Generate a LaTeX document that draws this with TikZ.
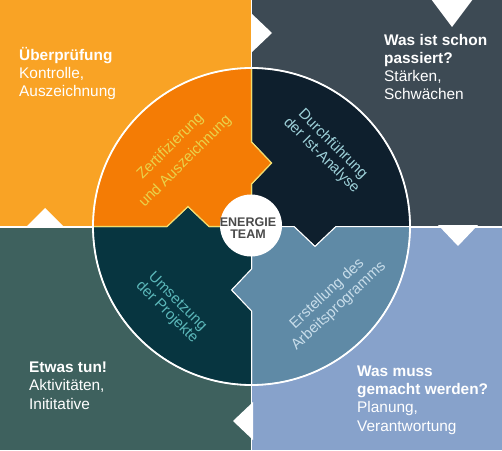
\documentclass[tikz,border=0pt]{standalone}
\usepackage{fontspec}
\setmainfont{Liberation Sans}
\definecolor{bgTL}{HTML}{F9A325}
\definecolor{bgTR}{HTML}{3D4A54}
\definecolor{bgBL}{HTML}{3E615E}
\definecolor{bgBR}{HTML}{87A2CB}
\definecolor{secOr}{HTML}{F47C05}
\definecolor{secNv}{HTML}{0E1F2D}
\definecolor{secTl}{HTML}{073540}
\definecolor{secBl}{HTML}{5F8AA6}
\definecolor{txOr}{HTML}{E9D24A}
\definecolor{txNv}{HTML}{9DD0D8}
\definecolor{txTl}{HTML}{5BB7B9}
\definecolor{txBl}{HTML}{C8DDEA}
\definecolor{txCt}{HTML}{4A4A4A}
\definecolor{bdOr}{HTML}{F2DC6A}
\tikzset{
  quarterpiece/.pic={
    \path[pic actions] (0,0) -- (0,42.5) -- (20,63.5) -- (0,84.5) -- (0,158.5)
      arc[start angle=90,end angle=180,radius=158.5]
      -- (-84.5,0) -- (-63.5,20) -- (-42.5,0) -- cycle;
  },
  notch/.style={fill=white},
  outer/.style={anchor=base west, align=left, text=white, inner sep=0pt,
    font=\fontsize{15.4}{18.2}\selectfont},
  sectxt/.style={align=center, inner sep=0pt}
}
\begin{document}
\begin{tikzpicture}[x=1pt,y=1pt]
\useasboundingbox (0,0) rectangle (502,450);
\fill[white] (0,0) rectangle (502,450);
% background quadrants
\fill[bgTL] (0,224) rectangle (250.8,450);
\fill[bgTR] (252.4,224) rectangle (502,450);
\fill[bgBL] (0,0) rectangle (250.8,222.4);
\fill[bgBR] (252.4,0) rectangle (502,222.4);
% white notches
\fill[notch] (26,223) -- (45,242) -- (64,223) -- cycle;
\fill[notch] (251,437) -- (272,417) -- (251,397) -- cycle;
\fill[notch] (431,451) -- (452,423) -- (473,451) -- cycle;
\fill[notch] (438,225) -- (458,204) -- (478,225) -- cycle;
\fill[notch] (253,48) -- (233,29) -- (253,10) -- cycle;
% sectors
\coordinate (C) at (251.5,223.5);
\pic[fill=secNv, draw=white, line width=1pt, rotate=-90] at (C) {quarterpiece};
\pic[fill=secBl, draw=white, line width=1pt, rotate=-180] at (C) {quarterpiece};
\pic[fill=secTl, draw=white, line width=1pt, rotate=90] at (C) {quarterpiece};
\pic[fill=secOr, draw=bdOr, line width=1.2pt] at (C) {quarterpiece};
\draw[white, line width=1.8pt] (C) circle[radius=158.5];
\node[circle, fill=white, minimum size=62pt, inner sep=0pt] (hub) at (251,224.5) {};
\node[align=center, text=txCt, font=\bfseries\fontsize{12.5}{11.5}\selectfont] (hubtext) at (248,222) {ENERGIE\\TEAM};
% sector texts
\node[sectxt, text=txOr, rotate=45, font=\fontsize{15}{21}\selectfont] (s1) at (178,296) {Zertifizierung\\und Auszeichnung};
\node[sectxt, text=txNv, rotate=-45, font=\fontsize{15}{16}\selectfont] (s2) at (327,300) {Durchführung\\der Ist-Analyse};
\node[sectxt, text=txTl, rotate=-45, font=\fontsize{15}{13}\selectfont] (s3) at (172,143) {Umsetzung\\der Projekte};
\node[sectxt, text=txBl, rotate=43, font=\fontsize{15}{17}\selectfont] (s4) at (333,150) {Erstellung des\\Arbeitsprogramms};
% outer texts (anchor = baseline of last line)
\node[outer] (q1) at (19,353) {\textbf{Überprüfung}\\Kontrolle,\\Auszeichnung};
\node[outer] (q2) at (384,350) {\textbf{Was ist schon}\\\textbf{passiert?}\\Stärken,\\Schwächen};
\node[outer] (q3) at (29,41) {\textbf{Etwas tun!}\\Aktivitäten,\\Inititative};
\node[outer] (q4) at (357,19) {\textbf{Was muss}\\\textbf{gemacht werden?}\\Planung,\\Verantwortung};
\end{tikzpicture}
\end{document}
